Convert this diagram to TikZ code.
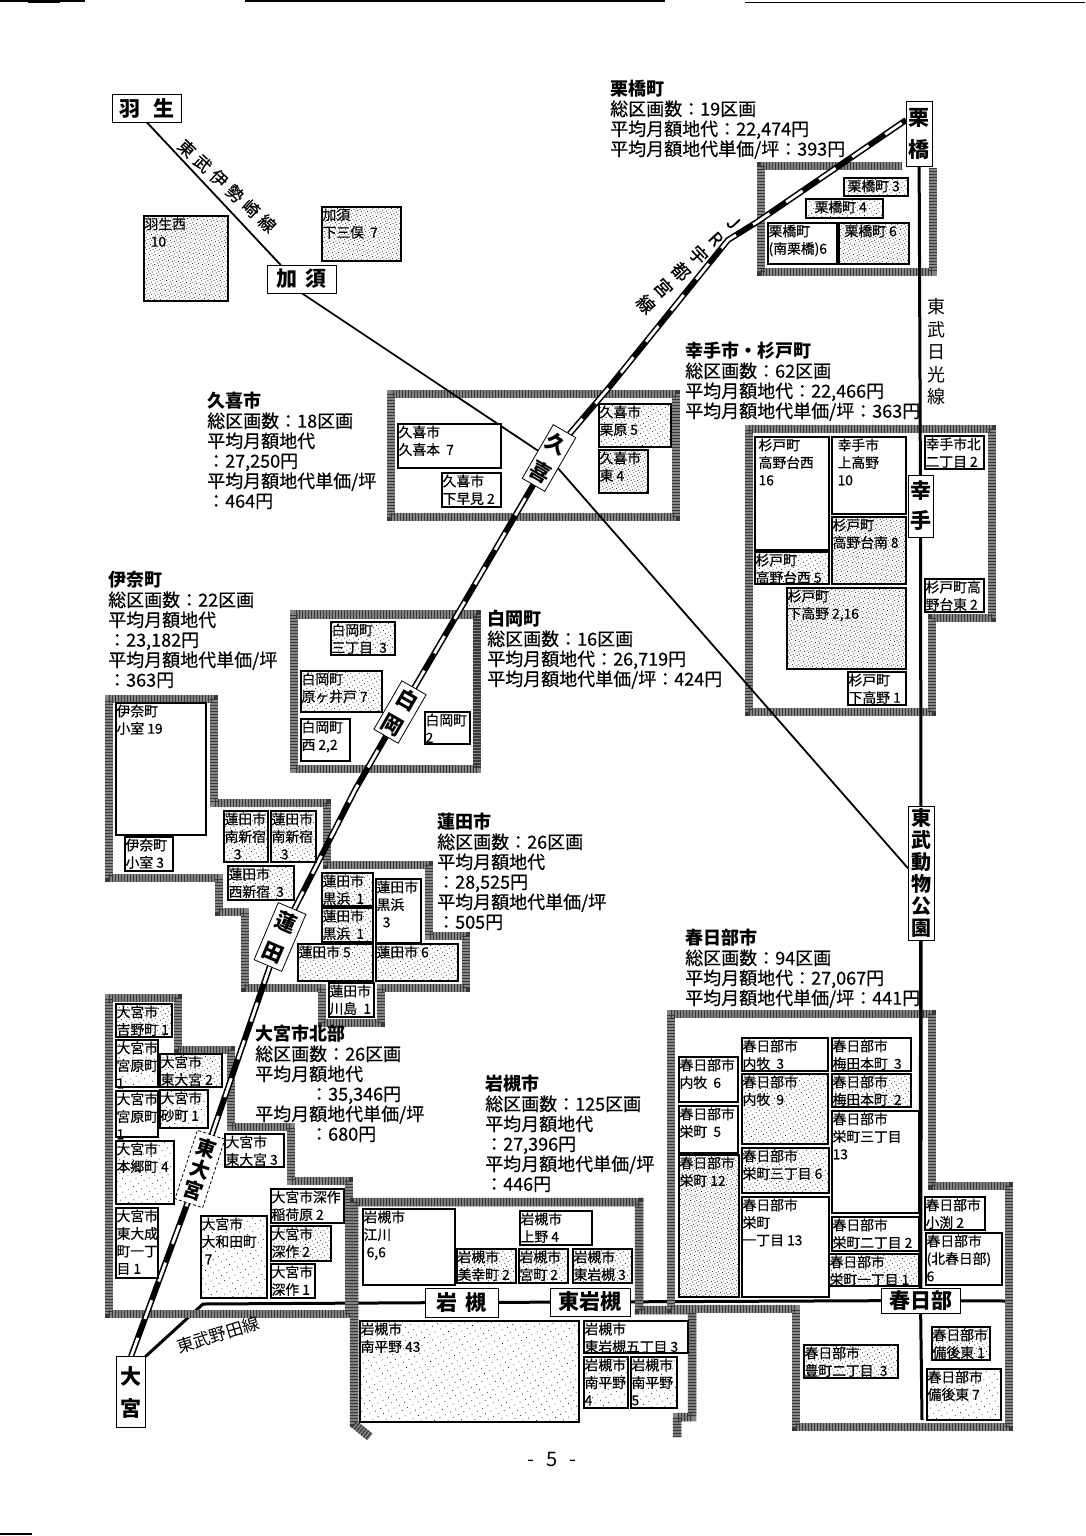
\documentclass[tikz,border=0pt]{standalone}
\usepackage{fontspec}
\setmainfont{Noto Sans CJK JP}
\newfontfamily\heavyface[FakeBold=0.5]{Noto Sans CJK JP}
\newcommand{\stationface}{\rmfamily\bfseries}
\newcommand{\hd}[1]{{\rmfamily\bfseries #1}}
\usetikzlibrary{backgrounds,patterns.meta}
\newcommand{\lotfont}{\heavyface\fontsize{13.8}{17.5}\selectfont\lineskiplimit=-100pt\parindent=0pt\raggedright\leftskip=0.6pt\hbadness=10000\hfuzz=30pt\vspace*{1.6pt}}
\newcommand{\lotbox}[6][lotp]{%
  \pgfmathsetmacro\lotw{#5-#3}\pgfmathsetmacro\loth{#6-#4}%
  \lotnode{#1}{#2}{#3}{#4}}
\newcommand{\lotnode}[5]{\node[lotbase,#1] (#2) at (#3,#4) {\parbox[t][\loth pt][t]{\lotw pt}{\lotfont #5}};}
\tikzset{
  lotbase/.style={draw=black,line width=1.5pt,anchor=north west,inner sep=0pt,outer sep=0pt,preaction={fill=white}},
  lotp/.style={},
  lotl/.style={pattern={Dots[radius=0.5pt,distance=6pt,angle=28]},pattern color=black},
  lotm/.style={pattern={Dots[radius=0.5pt,distance=3.8pt,angle=28]},pattern color=black},
  lotd/.style={pattern={Dots[radius=0.5pt,distance=2.8pt,angle=28]},pattern color=black},
  band/.style={draw=black!48,line width=8.5pt,line join=miter,postaction={draw=black!78,line width=8.5pt,dash pattern=on 1.2pt off 1.8pt}},
  rail/.style={draw=black,line width=6pt,postaction={draw=white,line width=2.8pt,dash pattern=on 20pt off 20pt}},
  thinline/.style={draw=black,line width=1.8pt},
  midline/.style={draw=black,line width=3pt},
  stn/.style={draw=black,fill=white,line width=0.8pt,inner sep=0pt,outer sep=0pt,align=center,font=\stationface\fontsize{21}{32}\selectfont},
  info/.style={anchor=north west,inner sep=0pt,align=left,font=\heavyface\fontsize{18}{20}\selectfont},
  linelabel/.style={inner sep=0pt,align=center}
}
\begin{document}
\begin{tikzpicture}[x=1pt,y=-1pt]
\useasboundingbox (0,0) rectangle (1085,1536);

% ---- stations
\node[stn,minimum width=69pt,minimum height=28pt] (hanyu) at (146.5,108) {羽\hspace{13pt}生};
\node[stn,minimum width=69pt,minimum height=28pt] (kazo) at (301.5,279) {加\hspace{8pt}須};
\node[stn,minimum width=26pt,minimum height=65pt] (kurihashi) at (919,134) {栗\\橋};
\node[stn,minimum width=25pt,minimum height=62pt,font=\stationface\fontsize{21}{30}\selectfont] (satte) at (920.5,506) {幸\\手};
\node[stn,minimum width=26pt,minimum height=134pt,font=\stationface\fontsize{20}{22}\selectfont] (tobu) at (921,873) {東\\武\\動\\物\\公\\園};
\node[stn,minimum width=79pt,minimum height=25pt] (kasukabe) at (920.5,1300.5) {春日部};
\node[stn,minimum width=73pt,minimum height=29pt] (iwatsuki) at (461.5,1302.5) {岩\hspace{8pt}槻};
\node[stn,minimum width=80pt,minimum height=28pt] (higashiiwa) at (590,1302) {東岩槻};
\node[stn,minimum width=29pt,minimum height=71pt] (oomiya) at (131,1392) {大\\宮};
\node[stn,minimum width=26pt,minimum height=62pt,rotate=-30] (kuki) at (549,458) {久\\喜};
\node[stn,minimum width=28pt,minimum height=56pt,rotate=-30,font=\stationface\fontsize{21}{29}\selectfont] (shiraoka) at (400,712) {白\\岡};
\node[stn,minimum width=30pt,minimum height=62pt,rotate=-23] (hasuda) at (280,937) {蓮\\田};
\node[stn,densely dashed,minimum width=29pt,minimum height=72pt,rotate=-18,font=\stationface\fontsize{20}{22}\selectfont] (hoomiya) at (200,1169) {東\\大\\宮};

\coordinate (rA) at (355,790);
\coordinate (rB) at (607,390);
\coordinate (rC) at (728,240);
\coordinate (rD) at (757,222);
\coordinate (nA) at (203,1304);
\coordinate (nikkoend) at (922,1420);
\coordinate (nodaend) at (1005,1301);

% ---- lines and district bands, behind everything
\begin{scope}[on background layer]
\draw[midline] (oomiya.north east) -- (nA) -- (iwatsuki);
\draw[midline] (iwatsuki) -- (higashiiwa);
\draw[midline] (higashiiwa) -- (kasukabe);
\draw[midline] (kasukabe) -- (nodaend);

\draw[band] (902,166) -- (761,166) -- (761,272) -- (933,272) -- (933,168);
\draw[band] (391,394) rectangle (676,517);
\draw[band] (749,429) -- (992,429) -- (992,618) -- (932,618) -- (932,712) -- (749,712) -- cycle;
\draw[band] (294,614.5) rectangle (477,769);
\draw[band] (109,699) -- (214,699) -- (214,803) -- (327,803) -- (327,865) -- (429,865) -- (429,936) -- (466,936) -- (466,988) -- (381,988) -- (381,1023) -- (322,1023) -- (322,988) -- (245,988) -- (245,912) -- (219,912) -- (219,878) -- (109,878) -- cycle;
\draw[band] (109,998) -- (178,998) -- (178,1050) -- (231,1050) -- (231,1127) -- (291,1127) -- (291,1181) -- (349,1181) -- (349,1314) -- (109,1314) -- cycle;
\draw[band] (677,1437) -- (677,1417) -- (692,1417) -- (692,1310) -- (639,1310) -- (639,1202) -- (354,1202) -- (354,1424) -- (370,1437);
\draw[band] (671,1014) -- (932,1014) -- (932,1186) -- (1009,1186) -- (1009,1427) -- (796,1427) -- (796,1309) -- (671,1309) -- cycle;

\draw[thinline] (hanyu.south) -- (kazo.146);
\draw[thinline] (kazo.south) -- (kuki);
\draw[thinline] (kuki) -- (tobu.160);

\draw[midline] (kurihashi) -- (satte);
\draw[midline] (satte) -- (tobu);
\draw[draw=black,line width=3.6pt] (tobu) -- (kasukabe);
\draw[midline] (kasukabe) -- (nikkoend);

\draw[rail] (oomiya.north) -- (hoomiya);
\draw[rail] (hoomiya) -- (hasuda);
\draw[rail] (hasuda) -- (rA) -- (shiraoka);
\draw[rail] (shiraoka) -- (kuki);
\draw[rail] (kuki) -- (rB) -- (rC) -- (rD) -- (kurihashi.133);
\end{scope}

% ---- line names
\node[linelabel,rotate=-43,font=\heavyface\fontsize{17}{17}\selectfont] (lblisesaki) at (227,186) {東\hspace{5pt}武\hspace{5pt}伊\hspace{5pt}勢\hspace{5pt}崎\hspace{5pt}線};
\node[linelabel,rotate=-47,font=\heavyface\fontsize{18}{24}\selectfont] (lbljr) at (689,264) {J\\R\\宇\\都\\宮\\線};
\node[linelabel,font=\fontsize{18}{22.5}\selectfont] (lblnikko) at (936,352) {東\\武\\日\\光\\線};
\node[linelabel,rotate=17,font=\fontsize{17}{17}\selectfont] (lblnoda) at (218,1335) {東武野田線};

% ---- summaries
\node[info] (iKuri) at (610,80) {\hd{栗橋町}\\総区画数：19区画\\平均月額地代：22,474円\\平均月額地代単価/坪：393円};
\node[info] (iSatte) at (685,342) {\hd{幸手市・杉戸町}\\総区画数：62区画\\平均月額地代：22,466円\\平均月額地代単価/坪：363円};
\node[info] (iKuki) at (207,392) {\hd{久喜市}\\総区画数：18区画\\平均月額地代\\：27,250円\\平均月額地代単価/坪\\：464円};
\node[info] (iIna) at (108,571) {\hd{伊奈町}\\総区画数：22区画\\平均月額地代\\：23,182円\\平均月額地代単価/坪\\：363円};
\node[info] (iShira) at (487,610) {\hd{白岡町}\\総区画数：16区画\\平均月額地代：26,719円\\平均月額地代単価/坪：424円};
\node[info] (iHasu) at (437,813) {\hd{蓮田市}\\総区画数：26区画\\平均月額地代\\：28,525円\\平均月額地代単価/坪\\：505円};
\node[info] (iKasu) at (685,929) {\hd{春日部市}\\総区画数：94区画\\平均月額地代：27,067円\\平均月額地代単価/坪：441円};
\node[info] (iOomi) at (255,1025) {\hd{大宮市北部}\\総区画数：26区画\\平均月額地代\\\hspace*{55pt}：35,346円\\平均月額地代単価/坪\\\hspace*{55pt}：680円};
\node[info] (iIwa) at (485,1075) {\hd{岩槻市}\\総区画数：125区画\\平均月額地代\\：27,396円\\平均月額地代単価/坪\\：446円};

% ---- top left
\lotbox[lotd]{b1}{144}{216}{228}{301}{羽生西\\\ \ 10}
\lotbox[lotd]{b2}{322}{207}{401}{261}{加須\\下三俣\ \ 7}
% Kurihashi
\lotbox[lotm]{b3}{844}{178}{908}{196}{\hspace*{3pt}栗橋町 3}
\lotbox[lotm]{b4}{806}{199}{883}{218}{\hspace*{8pt}栗橋町 4}
\lotbox{b5}{768}{223}{837}{264}{栗橋町\\(南栗橋)6}
\lotbox[lotd]{b6}{839}{223}{909}{264}{\hspace*{5pt}栗橋町 6}
% Satte / Sugito
\lotbox{b7}{755}{437}{829}{550}{\hspace*{3pt}杉戸町\\\hspace*{3pt}高野台西\\\hspace*{3pt}16}
\lotbox{b8}{832}{437}{906}{514}{\hspace*{5pt}幸手市\\\hspace*{5pt}上高野\\\hspace*{5pt}10}
\lotbox[lotd]{b9}{832}{517}{906}{584}{杉戸町\\高野台南 8}
\lotbox[lotm]{b10}{755}{552}{829}{584}{杉戸町\\高野台西 5}
\lotbox[lotd]{b11}{787}{588}{906}{669}{杉戸町\\下高野 2,16}
\lotbox{b12}{848}{672}{906}{705}{杉戸町\\下高野 1}
\lotbox{b13}{925}{436}{984}{469}{幸手市北\\二丁目 2}
\lotbox{b14}{925}{579}{984}{612}{杉戸町高\\野台東 2}
% Kuki
\lotbox{b15}{398}{424}{501}{468}{久喜市\\久喜本\ \ 7}
\lotbox{b16}{442}{473}{501}{507}{久喜市\\下早見 2}
\lotbox[lotm]{b17}{599}{404}{671}{447}{久喜市\\栗原 5}
\lotbox[lotd]{b18}{599}{450}{648}{493}{久喜市\\東\ 4}
% Shiraoka
\lotbox[lotm]{b19}{331}{622}{395}{655}{白岡町\\三丁目\ \ 3}
\lotbox[lotm]{b20}{301}{671}{382}{712}{白岡町\\原ヶ井戸\ 7}
\lotbox{b21}{301}{719}{350}{761}{白岡町\\西 2,2}
\lotbox{b22}{425}{712}{470}{744}{白岡町\\2}
% Ina
\lotbox{b23}{116}{703}{206}{835}{伊奈町\\小室\ 19}
\lotbox{b24}{125}{837}{173}{871}{伊奈町\\小室 3}
% Hasuda
\lotbox[lotm]{b25}{224}{811}{268}{862}{蓮田市\\南新宿\\\ \ \ 3}
\lotbox[lotm]{b26}{271}{811}{316}{862}{蓮田市\\南新宿\\\ \ \ 3}
\lotbox[lotm]{b27}{228}{866}{294}{900}{蓮田市\\西新宿\ \ 3}
\lotbox[lotm]{b28}{322}{873}{373}{906}{蓮田市\\黒浜\ \ 1}
\lotbox[lotm]{b29}{322}{908}{373}{942}{蓮田市\\黒浜\ \ 1}
\lotbox{b30}{376}{879}{421}{943}{蓮田市\\黒浜\\\ \ 3}
\lotbox[lotm]{b31}{298}{944}{373}{981}{蓮田市 5}
\lotbox[lotm]{b32}{376}{944}{458}{981}{蓮田市 6}
\lotbox{b33}{329}{983}{374}{1017}{蓮田市\\川島\ \ 1}
% Omiya north
\lotbox[lotm]{b34}{116}{1004}{172}{1037}{大宮市\\吉野町 1}
\lotbox[lotl]{b35}{116}{1040}{158}{1087}{大宮市\\宮原町\\1}
\lotbox[lotm]{b36}{160}{1054}{222}{1087}{大宮市\\東大宮 2}
\lotbox{b37}{116}{1091}{158}{1137}{大宮市\\宮原町\\1}
\lotbox[lotl]{b38}{160}{1090}{208}{1128}{大宮市\\砂町 1}
\lotbox[lotl]{b39}{116}{1141}{174}{1204}{大宮市\\本郷町 4}
\lotbox{b40}{116}{1208}{158}{1278}{大宮市\\東大成\\町一丁\\目 1}
\lotbox{b41}{225}{1134}{284}{1167}{大宮市\\東大宮 3}
\lotbox{b42}{271}{1189}{344}{1223}{大宮市深作\\稲荷原 2}
\lotbox[lotm]{b43}{271}{1226}{331}{1261}{大宮市\\深作 2}
\lotbox{b44}{271}{1264}{315}{1298}{大宮市\\深作 1}
\lotbox[lotl]{b45}{201}{1216}{267}{1298}{大宮市\\大和田町\\\ 7}
% Iwatsuki
\lotbox{b46}{363}{1209}{455}{1285}{岩槻市\\江川\\\ 6,6}
\lotbox{b47}{520}{1211}{592}{1245}{岩槻市\\上野 4}
\lotbox[lotm]{b48}{457}{1249}{516}{1283}{岩槻市\\美幸町 2}
\lotbox[lotm]{b49}{519}{1249}{568}{1283}{岩槻市\\宮町 2}
\lotbox[lotm]{b50}{573}{1249}{632}{1283}{岩槻市\\東岩槻 3}
\lotbox[lotl]{b51}{360}{1321}{579}{1422}{岩槻市\\南平野 43}
\lotbox{b52}{584}{1321}{688}{1353}{岩槻市\\東岩槻五丁目 3}
\lotbox[lotl]{b53}{584}{1357}{628}{1408}{岩槻市\\南平野\\4}
\lotbox[lotl]{b54}{631}{1357}{677}{1408}{岩槻市\\南平野\\5}
% Kasukabe
\lotbox{b55}{679}{1057}{738}{1102}{春日部市\\内牧\ \ 6}
\lotbox{b56}{679}{1106}{738}{1153}{春日部市\\栄町\ \ 5}
\lotbox[lotd]{b57}{679}{1155}{739}{1297}{春日部市\\栄町 12}
\lotbox{b58}{742}{1038}{828}{1071}{春日部市\\内牧\ \ 3}
\lotbox[lotm]{b59}{742}{1074}{828}{1144}{春日部市\\内牧\ \ 9}
\lotbox[lotm]{b60}{742}{1148}{829}{1193}{春日部市\\栄町三丁目 6}
\lotbox{b61}{742}{1197}{829}{1297}{春日部市\\栄町\\一丁目 13}
\lotbox{b62}{832}{1038}{911}{1071}{春日部市\\梅田本町\ \ 3}
\lotbox[lotm]{b63}{832}{1074}{911}{1107}{春日部市\\梅田本町\ \ 2}
\lotbox{b64}{832}{1111}{919}{1213}{春日部市\\栄町三丁目\\13}
\lotbox{b65}{832}{1217}{919}{1251}{春日部市\\栄町二丁目 2}
\lotbox[lotm]{b66}{829}{1254}{919}{1286}{春日部市\\栄町一丁目 1}
\lotbox{b67}{925}{1197}{985}{1230}{春日部市\\小渕 2}
\lotbox{b68}{926}{1233}{1002}{1285}{春日部市\\(北春日部)\\6}
\lotbox[lotm]{b69}{804}{1345}{898}{1378}{春日部市\\豊町二丁目\ \ 3}
\lotbox[lotm]{b70}{932}{1327}{990}{1360}{春日部市\\備後東 1}
\lotbox[lotl]{b71}{927}{1369}{1001}{1420}{春日部市\\備後東 7}

% ---- page number and scan edge marks
\node[inner sep=0pt,font=\fontsize{20}{20}\selectfont] (pageno) at (552,1459) {-\hspace{12pt}5\hspace{12pt}-};
\draw[line width=1.2pt] (0,1) -- (85,1);
\draw[line width=3pt] (28,1.5) -- (60,1.5);
\draw[line width=1.2pt] (245,1) -- (665,1);
\draw[line width=1.2pt] (745,2.5) -- (1085,2.5);
\draw[line width=1.2pt] (0,1534) -- (32,1534);
\end{tikzpicture}
\end{document}
